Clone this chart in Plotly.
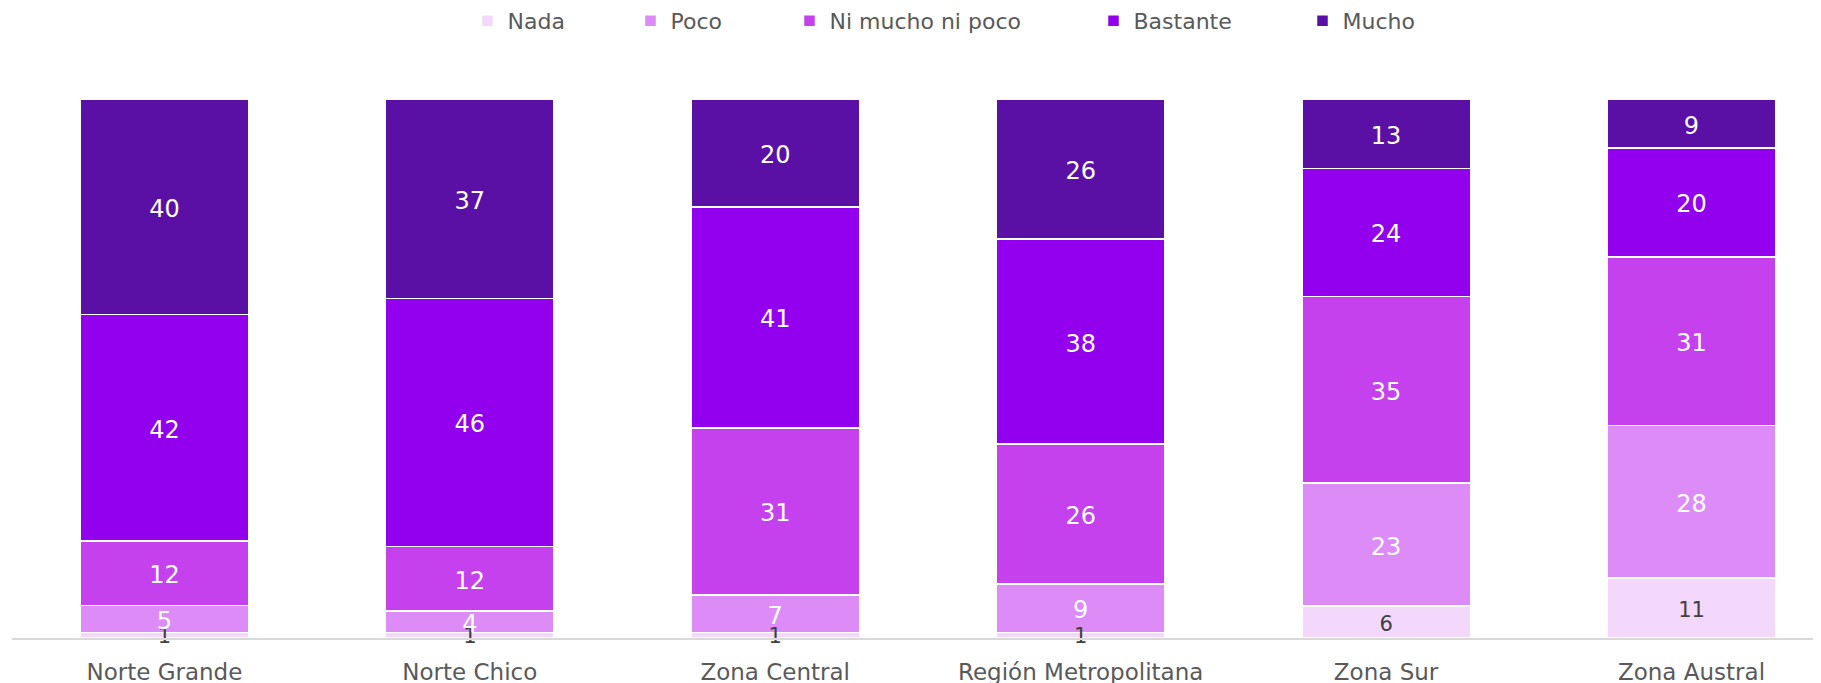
import plotly.graph_objects as go

categories = ["Norte Grande", "Norte Chico", "Zona Central", "Región Metropolitana", "Zona Sur", "Zona Austral"]
nada = [1, 1, 1, 1, 6, 11]
poco = [5, 4, 7, 9, 23, 28]
ni_mucho = [12, 12, 31, 26, 35, 31]
bastante = [42, 46, 41, 38, 24, 20]
mucho = [40, 37, 20, 26, 13, 9]

series = [
    ("Nada", nada, "#F3D8FB", "#404040", 21),
    ("Poco", poco, "#DD8CF7", "white", 24),
    ("Ni mucho ni poco", ni_mucho, "#C641EE", "white", 24),
    ("Bastante", bastante, "#9300EE", "white", 24),
    ("Mucho", mucho, "#5A10A5", "white", 24),
]

# page has an 8px body margin, so figure is sized to fit the window
W, H = 1813, 675
ml, mr, mt, mb = 4, 0, 91, 45
pw = W - ml - mr
ph = H - mt - mb
legend_sym_page = [485, 648, 807, 1111, 1320]
label_nudge_px = 4  # labels sit slightly below the segment middle

FONT = "DejaVu Sans"
fig = go.Figure()
layout_legends = {}
for i, (name, vals, color, tcolor, fs) in enumerate(series):
    lg = "legend" if i == 0 else f"legend{i+1}"
    fig.add_trace(go.Bar(
        x=categories, y=vals, name=name,
        marker=dict(color=color, line=dict(color="white", width=1.5)),
        textposition="none",
        width=0.552, legend=lg, showlegend=True,
    ))
    layout_legends[lg] = dict(
        x=(legend_sym_page[i] + 2 - 8 - 19.5 - ml) / pw, xanchor="left",
        y=1 + (mt - 13) / ph, yanchor="middle",
        orientation="h", bgcolor="rgba(0,0,0,0)",
        font=dict(size=22, color="#595959", family=FONT),
        itemwidth=30,
    )

# segment labels, drawn above the bars at each segment's middle (100% stacked)
totals = [sum(s[1][k] for s in series) for k in range(len(categories))]
nudge = label_nudge_px * 100 / ph
cum = [0] * len(categories)
for name, vals, color, tcolor, fs in series:
    mids = [max((c + v / 2) * 100 / t - nudge, 0.0) for c, v, t in zip(cum, vals, totals)]
    cum = [c + v for c, v in zip(cum, vals)]
    fig.add_trace(go.Scatter(
        x=categories, y=mids, mode="text", text=[str(v) for v in vals],
        textposition="middle center", cliponaxis=False,
        textfont=dict(color=tcolor, size=fs, family=FONT),
        showlegend=False, hoverinfo="skip",
    ))

fig.update_layout(
    barmode="stack", barnorm="percent",
    width=W, height=H, showlegend=True,
    margin=dict(l=ml, r=mr, t=mt, b=mb, autoexpand=False),
    plot_bgcolor="white", paper_bgcolor="white",
    font=dict(family=FONT, color="#595959"),
    **layout_legends,
)
fig.update_xaxes(
    range=[-0.499, 5.424], showline=True, linecolor="#D9D9D9", linewidth=2,
    tickfont=dict(size=23, color="#595959", family=FONT), showgrid=False,
    ticklabelstandoff=12, automargin=False,
)
fig.update_yaxes(range=[0, 100], visible=False, showgrid=False)

fig.write_html("out.html")
